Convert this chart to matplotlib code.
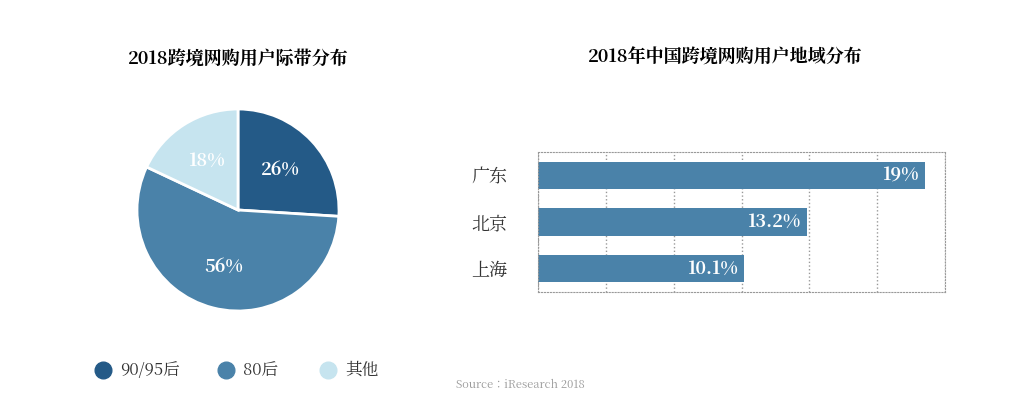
import matplotlib.pyplot as plt
from matplotlib import font_manager
from matplotlib.lines import Line2D
import numpy as np

cjk = [f.name for f in font_manager.fontManager.ttflist if 'CJK' in f.name]
plt.rcParams['font.family'] = sorted(set(cjk), key=lambda n: 'SC' not in n) + ['DejaVu Sans']

pie_labels = ['90/95后', '80后', '其他']
pie_values = [26, 56, 18]
pie_colors = ['#245a87', '#4a82a9', '#c6e4ef']

cities = ['广东', '北京', '上海']
city_values = [19, 13.2, 10.1]
city_text = ['19%', '13.2%', '10.1%']

fig = plt.figure(figsize=(10.24, 4.11), dpi=100)

# pie
ax1 = fig.add_axes([(238-101)/1024, 1-311/411, 202/1024, 202/411])
wedges, texts = ax1.pie(pie_values, colors=pie_colors, startangle=90, counterclock=False,
                        wedgeprops=dict(edgecolor='white', linewidth=2))
ax1.set_xlim(-1, 1)
ax1.set_ylim(-1, 1)
ax1.set_aspect('equal')
for w, v in zip(wedges, pie_values):
    ang = np.deg2rad((w.theta1 + w.theta2) / 2)
    r = 0.58
    ax1.text(r*np.cos(ang), r*np.sin(ang), f'{v}%', ha='center', va='center',
             color='white', fontsize=13, fontweight='bold')
fig.text(238/1024, 1-60/411, '2018跨境网购用户际带分布', ha='center', va='center',
         fontsize=13, fontweight='bold')

# legend
for x, lab, c in zip([103, 226, 328], pie_labels, pie_colors):
    fig.add_artist(Line2D([x/1024], [1-370/411], marker='o', markersize=12, color=c,
                          transform=fig.transFigure))
    fig.text((x+17)/1024, 1-370/411, lab, ha='left', va='center', fontsize=12, color='#333333')

# bars
ax2 = fig.add_axes([538/1024, 1-292/411, 407/1024, 140/411])
y = np.arange(len(cities))
ax2.barh(y, city_values, height=0.58, color='#4a82a9')
ax2.set_xlim(0, 20)
ax2.set_ylim(len(cities)-0.5, -0.5)
ax2.set_xticks(np.linspace(0, 20, 7))
ax2.grid(axis='x', linestyle=':', color='#999999', linewidth=1)
ax2.set_axisbelow(True)
ax2.tick_params(length=0, labelbottom=False)
ax2.set_yticks(y)
ax2.set_yticklabels(cities, fontsize=13, color='#333333')
ax2.tick_params(axis='y', pad=22)
for s in ax2.spines.values():
    s.set_linestyle(':')
    s.set_color('#999999')
for yi, v, t in zip(y, city_values, city_text):
    ax2.text(v - 0.3, yi, t, ha='right', va='center', color='white',
             fontsize=13, fontweight='bold')
fig.text(725/1024, 1-58/411, '2018年中国跨境网购用户地域分布', ha='center', va='center',
         fontsize=13, fontweight='bold')

fig.text(520/1024, 1-385/411, 'Source：iResearch 2018', ha='center', va='center',
         fontsize=8, color='#999999')

fig.savefig('out.png', dpi=100)
